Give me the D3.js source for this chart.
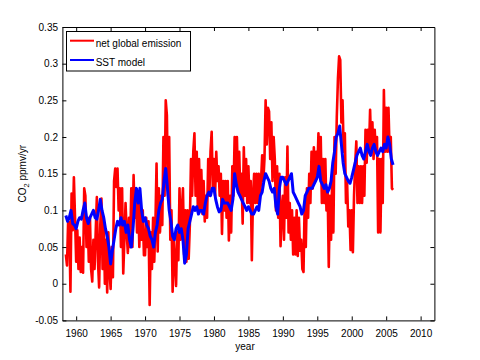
<!DOCTYPE html>
<html>
<head>
<meta charset="utf-8">
<script src="https://cdn.jsdelivr.net/npm/d3@7"></script>
<style>
  html, body { margin: 0; padding: 0; background: #fff; }
  svg { display: block; }
  text { font-family: "Liberation Sans", Arial, sans-serif; fill: #000; }
</style>
</head>
<body>
<svg id="chart" width="480" height="360"></svg>
<script>
// ---- data ----
// net global emission: samples every 2 months, from 1958.5
const emissionStart = 1958.5;
const emissionStep = 1 / 6;
const netEmission = [
  0.040, 0.025, 0.085,
  0.084, -0.011, 0.123, 0.073, 0.145, 0.090,
  0.030, 0.073, 0.020, 0.063, 0.016, 0.050,
  0.015, 0.130, 0.120, 0.050, 0.090, 0.030,
  0.090, 0.020, 0.003, 0.060, 0.020, 0.070,
  0.118, 0.030, -0.005, 0.080, 0.116, 0.020,
  0.090, 0.000, 0.060, -0.012, 0.070, 0.020,
  -0.007, 0.050, 0.009, 0.140, 0.157, 0.132,
  0.157, 0.100, 0.130, 0.050, 0.130, 0.014,
  0.060, 0.110, 0.070, 0.042, 0.090, 0.050,
  0.130, 0.050, 0.148, 0.090, 0.130, 0.070,
  0.120, 0.050, 0.115, 0.060, 0.100, 0.039,
  0.039, 0.090, 0.050, 0.085, -0.029, 0.070,
  0.020, 0.090, 0.030, 0.080, 0.164, 0.044,
  0.130, 0.070, 0.120, 0.080, 0.200, 0.120,
  0.250, 0.230, 0.120, 0.200, 0.060, 0.100,
  -0.011, 0.060, 0.030, -0.003, 0.070, 0.032,
  0.130, 0.060, 0.100, 0.130, 0.040, 0.100,
  0.030, 0.100, 0.034, 0.080, 0.170, 0.120,
  0.180, 0.205, 0.120, 0.180, 0.100, 0.170,
  0.100, 0.155, 0.095, 0.140, 0.085, 0.120,
  0.090, 0.170, 0.120, 0.180, 0.207, 0.130,
  0.170, 0.120, 0.180, 0.140, 0.160, 0.120,
  0.150, 0.068, 0.140, 0.100, 0.140, 0.090,
  0.140, 0.059, 0.120, 0.070, 0.160, 0.120,
  0.200, 0.140, 0.200, 0.130, 0.180, 0.120,
  0.150, 0.082, 0.186, 0.120, 0.170, 0.110,
  0.160, 0.110, 0.140, 0.032, 0.120, 0.150,
  0.110, 0.150, 0.110, 0.150, 0.120, 0.140,
  0.175, 0.140, 0.170, 0.250, 0.190, 0.240,
  0.235, 0.170, 0.220, 0.140, 0.200, 0.170,
  0.100, 0.160, 0.090, 0.150, 0.051, 0.100,
  0.120, 0.060, 0.145, 0.090, 0.187, 0.070,
  0.110, 0.060, 0.100, 0.040, 0.090, 0.040,
  0.100, 0.038, 0.090, 0.045, 0.060, 0.020,
  0.016, 0.110, 0.050, 0.130, 0.090, 0.150,
  0.110, 0.180, 0.130, 0.186, 0.140, 0.180,
  0.150, 0.205, 0.160, 0.200, 0.110, 0.170,
  0.110, 0.170, 0.100, 0.130, 0.023, 0.120,
  0.060, 0.150, 0.070, 0.200, 0.150, 0.228,
  0.280, 0.310, 0.305, 0.220, 0.250, 0.180,
  0.205, 0.110, 0.137, 0.078, 0.100, 0.046,
  0.100, 0.043, 0.120, 0.164, 0.194, 0.110,
  0.160, 0.110, 0.160, 0.110, 0.160, 0.120,
  0.210, 0.165, 0.210, 0.180, 0.237, 0.180,
  0.220, 0.170, 0.210, 0.180, 0.200, 0.070,
  0.170, 0.070, 0.170, 0.110, 0.264, 0.180,
  0.240, 0.180, 0.240, 0.180, 0.200, 0.130,
  0.128
];

// SST model: quarterly samples, from 1958.5
const sstStart = 1958.5;
const sstStep = 0.25;
const sstModel = [
  0.093, 0.085,
  0.090, 0.100, 0.082, 0.080,
  0.075, 0.085, 0.090, 0.088,
  0.100, 0.110, 0.090, 0.082,
  0.090, 0.095, 0.100, 0.090,
  0.088, 0.100, 0.115, 0.100,
  0.090, 0.075, 0.065, 0.050,
  0.027, 0.045, 0.060, 0.075,
  0.085, 0.080, 0.090, 0.080,
  0.085, 0.070, 0.080, 0.060,
  0.050, 0.075, 0.110, 0.130,
  0.110, 0.130, 0.100, 0.085,
  0.090, 0.080, 0.075, 0.065,
  0.060, 0.050, 0.070, 0.080,
  0.100, 0.110, 0.115, 0.140,
  0.157, 0.130, 0.100, 0.085,
  0.065, 0.060, 0.075, 0.080,
  0.070, 0.075, 0.060, 0.028,
  0.040, 0.075, 0.085, 0.095,
  0.105, 0.100, 0.105, 0.095,
  0.100, 0.100, 0.095, 0.110,
  0.120, 0.125, 0.120, 0.130,
  0.130, 0.115, 0.105, 0.098,
  0.100, 0.115, 0.110, 0.110,
  0.110, 0.105, 0.100, 0.115,
  0.150, 0.135, 0.125, 0.120,
  0.115, 0.110, 0.105, 0.100,
  0.105, 0.100, 0.095, 0.095,
  0.100, 0.105, 0.100, 0.120,
  0.125, 0.140, 0.150, 0.145,
  0.140, 0.130, 0.125, 0.130,
  0.105, 0.095, 0.130, 0.145,
  0.145, 0.140, 0.135, 0.140,
  0.145, 0.150, 0.125, 0.120,
  0.115, 0.110, 0.105, 0.095,
  0.100, 0.120, 0.125, 0.130,
  0.130, 0.130, 0.135, 0.140,
  0.145, 0.160, 0.140, 0.135,
  0.130, 0.135, 0.125, 0.130,
  0.140, 0.165, 0.180, 0.200,
  0.205, 0.215, 0.190, 0.165,
  0.150, 0.145, 0.140, 0.137,
  0.145, 0.155, 0.165, 0.175,
  0.180, 0.185, 0.175, 0.170,
  0.180, 0.190, 0.180, 0.175,
  0.185, 0.190, 0.180, 0.175,
  0.180, 0.185, 0.180, 0.190,
  0.185, 0.200, 0.190, 0.170,
  0.162
];

const xTicks = [1960, 1965, 1970, 1975, 1980, 1985, 1990, 1995, 2000, 2005, 2010];
const yTicks = [-0.05, 0, 0.05, 0.1, 0.15, 0.2, 0.25, 0.3, 0.35];
const yTickLabels = ["-0.05", "0", "0.05", "0.1", "0.15", "0.2", "0.25", "0.3", "0.35"];
const seriesNames = ["net global emission", "SST model"];
const seriesColors = ["#ff0000", "#0000ff"];

// ---- layout ----
const padL = 62.4, padR = 434.4, padT = 27, padB = 320.4;

const svg = d3.select("#chart");
const x = d3.scaleLinear().domain([1958, 2012]).range([padL, padR]);
const y = d3.scaleLinear().domain([-0.05, 0.35]).range([padB, padT]);

svg.append("defs").append("clipPath").attr("id", "plotclip")
  .append("rect").attr("x", padL).attr("y", padT)
  .attr("width", padR - padL).attr("height", padB - padT);

const toPoints = (arr, start, step) => arr.map((v, i) => [start + i * step, v]);
const line = d3.line().x(d => x(d[0])).y(d => y(d[1]));

const plot = svg.append("g").attr("clip-path", "url(#plotclip)");
const seriesData = [
  toPoints(netEmission, emissionStart, emissionStep),
  toPoints(sstModel, sstStart, sstStep)
];
seriesData.forEach((pts, k) => {
  plot.append("path")
    .datum(pts)
    .attr("d", line)
    .attr("fill", "none")
    .attr("stroke", seriesColors[k])
    .attr("stroke-width", k === 0 ? 2.6 : 3)
    .attr("stroke-linejoin", "round");
});

// ---- axes (MATLAB style: inward ticks, box) ----
const fs = "10px";
const gB = svg.append("g").attr("transform", `translate(0,${padB})`)
  .call(d3.axisBottom(x).tickValues(xTicks).tickFormat(d3.format("d"))
    .tickSize(-4).tickSizeOuter(0).tickPadding(9.2));
const gL = svg.append("g").attr("transform", `translate(${padL},0)`)
  .call(d3.axisLeft(y).tickValues(yTicks).tickFormat((d, i) => yTickLabels[i])
    .tickSize(-4).tickSizeOuter(0).tickPadding(4.4));
const gT = svg.append("g").attr("transform", `translate(0,${padT})`)
  .call(d3.axisTop(x).tickValues(xTicks).tickFormat("")
    .tickSize(-4).tickSizeOuter(0));
const gR = svg.append("g").attr("transform", `translate(${padR},0)`)
  .call(d3.axisRight(y).tickValues(yTicks).tickFormat("")
    .tickSize(-4).tickSizeOuter(0));

[gB, gL, gT, gR].forEach(g => {
  g.selectAll("text").style("font-size", fs).style("font-family", '"Liberation Sans", Arial, sans-serif').attr("fill", "#000");
  g.selectAll("line").attr("stroke", "#000");
  g.select(".domain").attr("stroke", "#000");
});

// axis labels
svg.append("text").attr("x", 245).attr("y", 349.5)
  .attr("text-anchor", "middle").style("font-size", fs).text("year");

const yl = svg.append("text")
  .attr("transform", `translate(25.5,${(padT + padB) / 2}) rotate(-90)`)
  .attr("text-anchor", "middle").style("font-size", fs);
yl.append("tspan").text("CO");
yl.append("tspan").attr("dy", 3).style("font-size", "7.5px").text("2");
yl.append("tspan").attr("dy", -3).text(" ppmv/yr");

// ---- legend ----
const lg = svg.append("g");
lg.append("rect").attr("x", 66.5).attr("y", 31.5).attr("width", 124).attr("height", 39.5)
  .attr("fill", "#fff").attr("stroke", "#000").attr("stroke-width", 1);
seriesNames.forEach((name, i) => {
  const ly = 40.7 + i * 19.3;
  lg.append("line").attr("x1", 70).attr("x2", 94).attr("y1", ly).attr("y2", ly)
    .attr("stroke", seriesColors[i]).attr("stroke-width", 2);
  lg.append("text").attr("x", 95.7).attr("y", ly + 6).style("font-size", fs).text(name);
});
</script>
</body>
</html>
